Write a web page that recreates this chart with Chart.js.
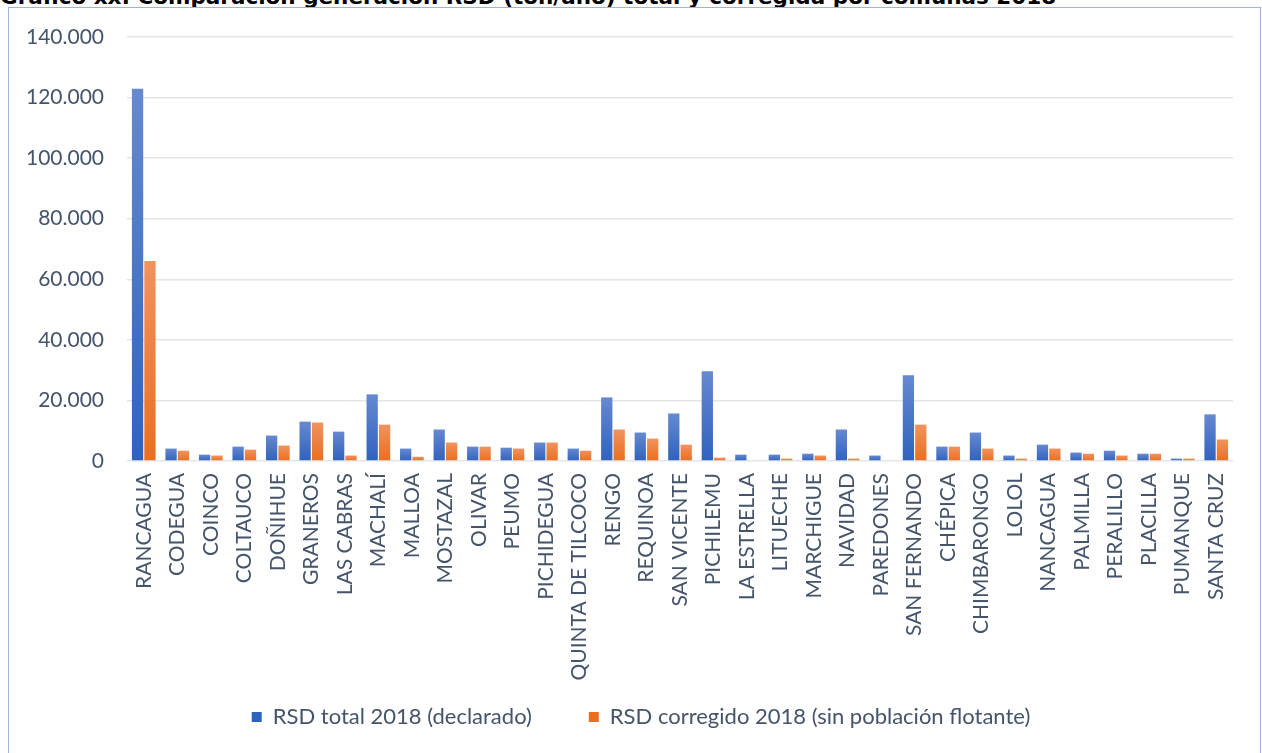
<!DOCTYPE html>
<html>
<head>
<meta charset="utf-8">
<script src="https://cdn.jsdelivr.net/npm/chart.js@4.4.0/dist/chart.umd.min.js"></script>
<style>
  html, body { margin: 0; padding: 0; background: #ffffff; overflow: hidden; }
  #wrap { position: relative; width: 1262px; height: 753px; overflow: hidden; }
  #title { position: absolute; left: 0px; top: -16px; font-family: "DejaVu Sans", sans-serif; font-weight: bold; font-size: 21.5px; color: #000; white-space: nowrap; }
  #frame { position: absolute; left: 8px; top: 7px; width: 1251px; height: 800px; border: 1.5px solid #9db4e0; pointer-events: none; }
  canvas { position: absolute; left: 0; top: 0; }
</style>
</head>
<body>
<div id="wrap">
  <div id="title">Gráfico xx: Comparación generación RSD (ton/año) total y corregida por comunas 2018</div>
  <canvas id="c" width="1262" height="753"></canvas>
  <div id="frame"></div>
</div>
<script>
const categories = ['RANCAGUA','CODEGUA','COINCO','COLTAUCO','DOÑIHUE','GRANEROS','LAS CABRAS','MACHALÍ','MALLOA','MOSTAZAL','OLIVAR','PEUMO','PICHIDEGUA','QUINTA DE TILCOCO','RENGO','REQUINOA','SAN VICENTE','PICHILEMU','LA ESTRELLA','LITUECHE','MARCHIGUE','NAVIDAD','PAREDONES','SAN FERNANDO','CHÉPICA','CHIMBARONGO','LOLOL','NANCAGUA','PALMILLA','PERALILLO','PLACILLA','PUMANQUE','SANTA CRUZ'];
const rsdTotal = [122900, 4100, 2100, 4750, 8400, 13000, 9700, 22000, 4100, 10400, 4750, 4400, 6100, 4100, 21000, 9400, 15700, 29600, 2100, 2100, 2400, 10400, 1800, 28300, 4750, 9400, 1800, 5400, 2800, 3400, 2400, 800, 15400];
const rsdCorregido = [66000, 3400, 1800, 3750, 5100, 12700, 1800, 12000, 1400, 6100, 4750, 4100, 6100, 3400, 10400, 7400, 5400, 1100, 0, 800, 1800, 800, 0, 12000, 4750, 4100, 800, 4100, 2400, 1800, 2400, 800, 7100];
const seriesNames = ['RSD total 2018 (declarado)', 'RSD corregido 2018 (sin población flotante)'];
const yTicks = [0, 20000, 40000, 60000, 80000, 100000, 120000, 140000];

const TEXT = '#44546A';
const FONT = 'Lato';

function grad(solid, light, dark) {
  return function(ctx) {
    if (ctx.type !== 'data') return solid;
    const chart = ctx.chart;
    if (!chart.chartArea || !chart.scales.y) return solid;
    const ys = chart.scales.y;
    const top = ys.getPixelForValue(ctx.raw);
    const bot = ys.getPixelForValue(0);
    if (!isFinite(top) || bot - top < 1) return solid;
    const g = chart.ctx.createLinearGradient(0, top, 0, bot);
    g.addColorStop(0, light);
    g.addColorStop(1, dark);
    return g;
  };
}

function fmt(v) {
  return String(Math.round(v)).replace(/\B(?=(\d{3})+(?!\d))/g, '.');
}

// widen the label clipping areas so long labels are not cut
const unclip = {
  id: 'unclip',
  afterLayout(chart) {
    chart.scales.y.left = 0;
    chart.scales.x.bottom = chart.height;
  }
};

new Chart(document.getElementById('c'), {
  type: 'bar',
  data: {
    labels: categories,
    datasets: [
      { label: seriesNames[0], data: rsdTotal, backgroundColor: grad('#4472C4', '#6689d1', '#2f62bf'), borderWidth: 0, categoryPercentage: 0.74, barPercentage: 0.91 },
      { label: seriesNames[1], data: rsdCorregido, backgroundColor: grad('#ED7D31', '#f2925e', '#e96f20'), borderWidth: 0, categoryPercentage: 0.74, barPercentage: 0.91 }
    ]
  },
  plugins: [unclip],
  options: {
    responsive: false,
    animation: false,
    devicePixelRatio: 1,
    layout: { padding: { left: 49, right: 29, top: 37, bottom: 15 } },
    plugins: {
      title: { display: false },
      tooltip: { enabled: false },
      legend: {
        position: 'bottom',
        align: 'center',
        labels: {
          boxWidth: 10, boxHeight: 10, padding: 57,
          color: TEXT,
          font: { family: FONT, size: 22 }
        }
      }
    },
    scales: {
      x: {
        grid: { display: false, drawTicks: false },
        border: { display: false },
        ticks: {
          color: TEXT, font: { family: FONT, size: 21 },
          minRotation: 90, maxRotation: 90, autoSkip: false, padding: 12
        },
        afterFit: function(s) { s.height = 188; }
      },
      y: {
        min: 0, max: 140000,
        afterBuildTicks: function(s) { s.ticks = yTicks.map(v => ({ value: v })); },
        grid: { color: '#e1e5ea', lineWidth: 1.5, drawTicks: false },
        border: { display: false },
        ticks: {
          color: TEXT, font: { family: FONT, size: 21 }, padding: 23,
          callback: function(v) { return fmt(v); }
        },
        afterFit: function(s) { s.width = 78; }
      }
    }
  }
});
</script>
</body>
</html>
